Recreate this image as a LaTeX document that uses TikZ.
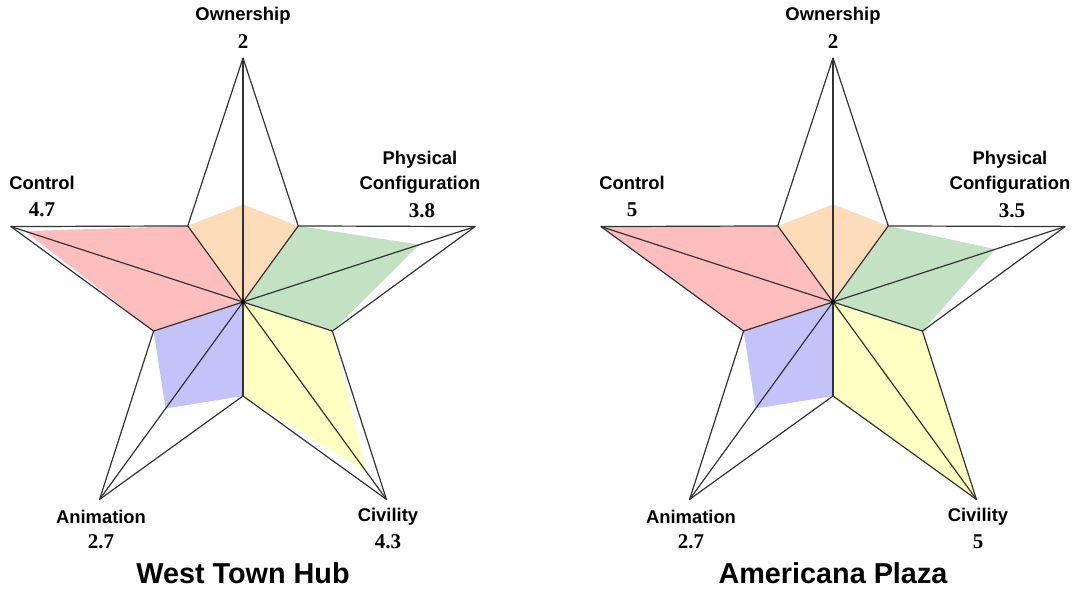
\documentclass[tikz,border=0pt]{standalone}
\usepackage{fontspec}
\setmainfont{Liberation Serif}
\setsansfont{Liberation Sans}
\usepackage{tikz}

\definecolor{ownfill}{RGB}{255,220,185}
\definecolor{physfill}{RGB}{195,225,195}
\definecolor{civfill}{RGB}{255,255,195}
\definecolor{animfill}{RGB}{195,195,250}
\definecolor{ctrlfill}{RGB}{255,190,190}

\begin{document}
\begin{tikzpicture}[x=0.5pt, y=0.5pt,
	edge/.style = {line width=0.6pt, black!80, line join=round},
	axis/.style = {font=\sffamily\bfseries\fontsize{9.2}{12.5}\selectfont, align=center},
	score/.style = {font=\bfseries\fontsize{10.5}{12}\selectfont},
	heading/.style = {font=\sffamily\bfseries\fontsize{14.4}{16}\selectfont}]
		\useasboundingbox (0,0) rectangle (1081,592);
		\foreach \cx/\place/\own/\phys/\civ/\anim/\ctrl in
			{243/West Town Hub/2/3.8/4.3/2.7/4.7, 833/Americana Plaza/2/3.5/5/2.7/5}{
		\begin{scope}[shift={(\cx,290)}]
			\coordinate (c\cx) at (0,0);
			% outer and inner corners of the star
			\coordinate (o1\cx) at (90:244);
			\coordinate (o2\cx) at (18:244);
			\coordinate (o3\cx) at (-54:244);
			\coordinate (o4\cx) at (-126:244);
			\coordinate (o5\cx) at (162:244);
			\coordinate (i1\cx) at (54:94);
			\coordinate (i2\cx) at (-18:94);
			\coordinate (i3\cx) at (-90:94);
			\coordinate (i4\cx) at (-162:94);
			\coordinate (i5\cx) at (126:94);
			% scores
			\fill[ownfill] (c\cx) -- (i1\cx) -- (90:\own*48.8) -- (i5\cx) -- cycle;
			\fill[physfill] (c\cx) -- (i2\cx) -- (18:\phys*48.8) -- (i1\cx) -- cycle;
			\fill[civfill] (c\cx) -- (i3\cx) -- (-54:\civ*48.8) -- (i2\cx) -- cycle;
			\fill[animfill] (c\cx) -- (i4\cx) -- (-126:\anim*48.8) -- (i3\cx) -- cycle;
			\fill[ctrlfill] (c\cx) -- (i5\cx) -- (162:\ctrl*48.8) -- (i4\cx) -- cycle;
			\draw[edge] (o1\cx) -- (i1\cx) -- (o2\cx) -- (i2\cx) -- (o3\cx) -- (i3\cx)
				-- (o4\cx) -- (i4\cx) -- (o5\cx) -- (i5\cx) -- cycle;
			\foreach \k in {1,...,5}{
				\draw[edge] (c\cx) -- (o\k\cx);
				\draw[edge] (c\cx) -- (i\k\cx);
			}
			\fill (c\cx) circle (2.2);
			% labels
			\node[axis] (ownlab\cx) at (0,286) {Ownership};
			\node[score] (ownval\cx) at (0,260) {\own};
			\node[axis] (physlab\cx) at (177,130) {Physical\\Configuration};
			\node[score] (physval\cx) at (179,91) {\phys};
			\node[axis] (ctrllab\cx) at (-201,119) {Control};
			\node[score] (ctrlval\cx) at (-201,92) {\ctrl};
			\node[axis] (animlab\cx) at (-142,-215) {Animation};
			\node[score] (animval\cx) at (-142,-240) {\anim};
			\node[axis] (civlab\cx) at (145,-215) {Civility};
			\node[score] (civval\cx) at (145,-240) {\civ};
			\node[heading] (title\cx) at (0,-271) {\place};
		\end{scope}
		}
	\end{tikzpicture}
\end{document}
